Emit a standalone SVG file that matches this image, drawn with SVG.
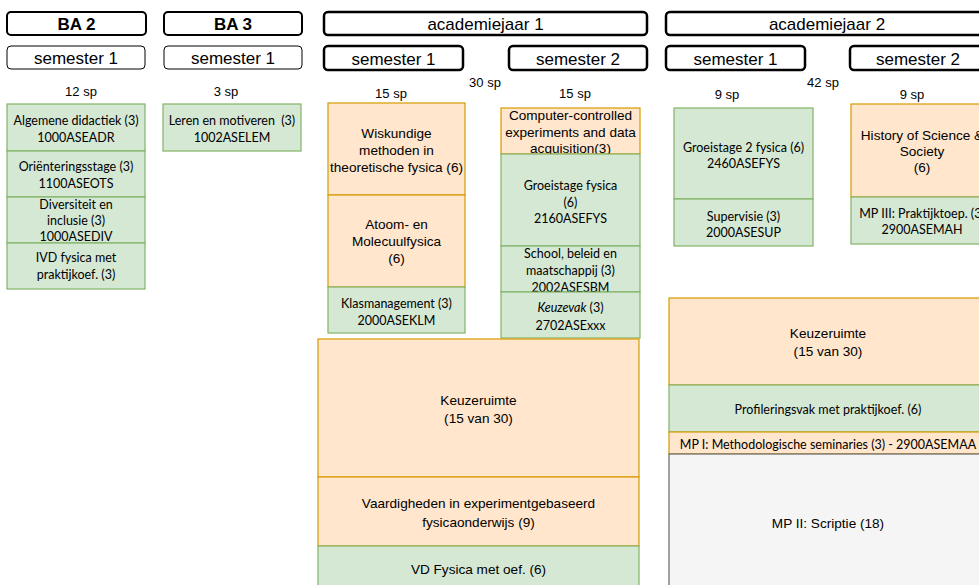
<svg xmlns="http://www.w3.org/2000/svg" width="979" height="585" viewBox="0 0 979 585">
<style>
.hdr{fill:#fff;stroke:#000;stroke-width:2.5}
.hdr2{fill:#fff;stroke:#000;stroke-width:2}
.sub{fill:#fff;stroke:#000;stroke-width:1}
.g{fill:#d5e8d4;stroke:#82b366;stroke-width:1.2}
.o{fill:#ffe6cc;stroke:#d79b00;stroke-width:1.2}
.gr{fill:#f5f5f5;stroke:#666;stroke-width:1.2}
text{text-anchor:middle;dominant-baseline:central}
.a{font-family:"Liberation Sans",Arial,sans-serif;font-size:13.6px;fill:#000}
.h{font-family:"Liberation Sans",Arial,sans-serif;font-size:17px;fill:#000}
.hb{font-family:"Liberation Sans",Arial,sans-serif;font-size:17px;font-weight:bold;fill:#000}
.c{font-family:Lato,"Open Sans",sans-serif;font-size:12.5px;fill:#000;white-space:pre}
.sp{font-family:"Liberation Sans",Arial,sans-serif;font-size:13px;fill:#000}
</style>
<rect width="979" height="585" fill="#fff"/>
<g id="headers">
<g id="h_ba2"><rect class="hdr2" x="7" y="12" width="139" height="23" rx="4"/><text class="hb" x="76.5" y="24">BA 2</text></g>
<g id="h_ba2_s1"><rect class="sub" x="7" y="46" width="138" height="23" rx="4"/><text class="h" x="76" y="58">semester 1</text></g>
<g id="h_ba3"><rect class="hdr2" x="164" y="12" width="138" height="23" rx="4"/><text class="hb" x="233" y="24">BA 3</text></g>
<g id="h_ba3_s1"><rect class="sub" x="164" y="46" width="138" height="23" rx="4"/><text class="h" x="233" y="58">semester 1</text></g>
<g id="h_ay1"><rect class="hdr" x="324" y="12" width="323" height="23" rx="4"/><text class="h" x="485.5" y="24">academiejaar 1</text></g>
<g id="h_ay1_s1"><rect class="hdr" x="324" y="46" width="139" height="24" rx="4"/><text class="h" x="393.5" y="59">semester 1</text></g>
<g id="h_ay1_s2"><rect class="hdr" x="509" y="46" width="138" height="24" rx="4"/><text class="h" x="578" y="59">semester 2</text></g>
<g id="h_ay2"><rect class="hdr" x="666" y="12" width="322" height="23" rx="4"/><text class="h" x="827" y="24">academiejaar 2</text></g>
<g id="h_ay2_s1"><rect class="hdr" x="666" y="46" width="139" height="24" rx="4"/><text class="h" x="735.5" y="59">semester 1</text></g>
<g id="h_ay2_s2"><rect class="hdr" x="850" y="46" width="136" height="24" rx="4"/><text class="h" x="918" y="59">semester 2</text></g>
</g>
<g id="credits">
<text class="sp" x="81" y="91">12 sp</text>
<text class="sp" x="226" y="91">3 sp</text>
<text class="sp" x="391" y="93">15 sp</text>
<text class="sp" x="485" y="82">30 sp</text>
<text class="sp" x="575" y="93">15 sp</text>
<text class="sp" x="727" y="94">9 sp</text>
<text class="sp" x="823" y="82">42 sp</text>
<text class="sp" x="912" y="94">9 sp</text>
</g>
<g id="n_alg"><rect class="g" x="7" y="104" width="138" height="47"/><text class="c" x="76" y="120">Algemene didactiek (3)</text><text class="c" x="76" y="137">1000ASEADR</text></g>
<g id="n_ori"><rect class="g" x="7" y="151" width="138" height="46"/><text class="c" x="76" y="166">Oriënteringsstage (3)</text><text class="c" x="76" y="183">1100ASEOTS</text></g>
<g id="n_div"><rect class="g" x="7" y="197" width="138" height="46"/><text class="c" x="76" y="204">Diversiteit en</text><text class="c" x="76" y="220">inclusie (3)</text><text class="c" x="76" y="236">1000ASEDIV</text></g>
<g id="n_ivd"><rect class="g" x="7" y="243" width="138" height="46"/><text class="c" x="76" y="257">IVD fysica met</text><text class="c" x="76" y="274">praktijkoef. (3)</text></g>
<g id="n_leren"><rect class="g" x="163" y="104" width="138" height="47"/><text class="c" x="232" y="120">Leren en motiveren  (3)</text><text class="c" x="232" y="137">1002ASELEM</text></g>
<g id="n_wisk"><rect class="o" x="328" y="103" width="137" height="92"/><text class="a" x="396.5" y="133">Wiskundige</text><text class="a" x="396.5" y="150">methoden in</text><text class="a" x="396.5" y="167">theoretische fysica (6)</text></g>
<g id="n_atoom"><rect class="o" x="328" y="195" width="137" height="92" stroke-width="1.8"/><text class="a" x="396.5" y="224">Atoom- en</text><text class="a" x="396.5" y="241">Molecuulfysica</text><text class="a" x="396.5" y="258">(6)</text></g>
<g id="n_klas"><rect class="g" x="328" y="287" width="137" height="46"/><text class="c" x="396.5" y="303">Klasmanagement (3)</text><text class="c" x="396.5" y="320">2000ASEKLM</text></g>
<g id="n_comp"><rect class="o" x="501" y="108" width="139" height="46"/><text class="a" x="570.5" y="115">Computer-controlled</text><text class="a" x="570.5" y="132">experiments and data</text><text class="a" x="570.5" y="148">acquisition(3)</text></g>
<g id="n_groei"><rect class="g" x="501" y="154" width="139" height="92"/><text class="c" x="570.5" y="185">Groeistage fysica</text><text class="c" x="570.5" y="202">(6)</text><text class="c" x="570.5" y="218">2160ASEFYS</text></g>
<g id="n_school"><rect class="g" x="501" y="246" width="139" height="46"/><text class="c" x="570.5" y="253">School, beleid en</text><text class="c" x="570.5" y="270">maatschappij (3)</text><text class="c" x="570.5" y="287">2002ASESBM</text></g>
<g id="n_keuzevak"><rect class="g" x="501" y="292" width="139" height="46"/><text class="c" x="570.5" y="307"><tspan font-style="italic">Keuzevak</tspan> (3)</text><text class="c" x="570.5" y="325">2702ASExxx</text></g>
<g id="n_keuze1"><rect class="o" x="318" y="339" width="321" height="138"/><text class="a" x="478.5" y="400">Keuzeruimte</text><text class="a" x="478.5" y="418">(15 van 30)</text></g>
<g id="n_vaard"><rect class="o" x="318" y="477" width="321" height="69"/><text class="a" x="478.5" y="503">Vaardigheden in experimentgebaseerd</text><text class="a" x="478.5" y="522">fysicaonderwijs (9)</text></g>
<g id="n_vd"><rect class="g" x="318" y="546" width="321" height="45"/><text class="a" x="478.5" y="569">VD Fysica met oef. (6)</text></g>
<g id="n_groei2"><rect class="g" x="674" y="108" width="139" height="91"/><text class="c" x="743.5" y="147">Groeistage 2 fysica (6)</text><text class="c" x="743.5" y="163">2460ASEFYS</text></g>
<g id="n_super"><rect class="g" x="674" y="199" width="139" height="47"/><text class="c" x="743.5" y="216">Supervisie (3)</text><text class="c" x="743.5" y="232">2000ASESUP</text></g>
<g id="n_hist"><rect class="o" x="851" y="104" width="142" height="93"/><text class="a" x="922" y="135">History of Science &amp;</text><text class="a" x="922" y="151">Society</text><text class="a" x="922" y="167">(6)</text></g>
<g id="n_mp3"><rect class="g" x="851" y="197" width="142" height="47"/><text class="c" x="922" y="213">MP III: Praktijktoep. (3)</text><text class="c" x="922" y="229">2900ASEMAH</text></g>
<g id="n_keuze2"><rect class="o" x="669" y="298" width="318" height="87"/><text class="a" x="828" y="333">Keuzeruimte</text><text class="a" x="828" y="351">(15 van 30)</text></g>
<g id="n_prof"><rect class="g" x="669" y="385" width="318" height="47"/><text class="c" x="828" y="409">Profileringsvak met praktijkoef. (6)</text></g>
<g id="n_mp1"><rect class="o" x="669" y="432" width="318" height="22"/><text class="c" x="828" y="444">MP I: Methodologische seminaries (3) - 2900ASEMAA</text></g>
<g id="n_mp2"><rect class="gr" x="669" y="454" width="318" height="140"/><text class="a" x="828" y="523" fill="#333">MP II: Scriptie (18)</text></g>
</svg>
